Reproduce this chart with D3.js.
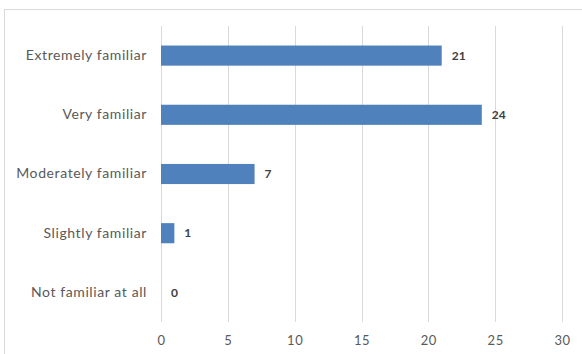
<!DOCTYPE html>
<html>
<head>
<meta charset="utf-8">
<script src="https://cdn.jsdelivr.net/npm/d3@7"></script>
<style>
  html, body { margin: 0; padding: 0; background: #fff; }
  svg { display: block; }
  text { font-family: Lato, "Open Sans", "Liberation Sans", sans-serif; }
</style>
</head>
<body>
<svg id="chart" width="582" height="354"></svg>
<script>
// Familiarity survey responses
const categories = ["Extremely familiar", "Very familiar", "Moderately familiar", "Slightly familiar", "Not familiar at all"];
const counts = [21, 24, 7, 1, 0];
const xTicks = [0, 5, 10, 15, 20, 25, 30];

const svg = d3.select("#chart");
const W = 582, H = 354;
const FONT = 'Lato, "Open Sans", "Liberation Sans", sans-serif';

// Chart frame (runs past the right and bottom edges)
svg.append("rect")
  .attr("x", 4.5).attr("y", 9.5)
  .attr("width", W + 10).attr("height", H + 10)
  .attr("fill", "#fff").attr("stroke", "#d9d9d9");

const plot = { left: 161, right: 562, top: 26, bottom: 322 };

const x = d3.scaleLinear().domain([0, 30]).range([plot.left, plot.right]);
const y = d3.scaleBand().domain(categories).range([plot.top, plot.bottom]).paddingInner(0.66).paddingOuter(0.33);

// Vertical gridlines
svg.append("g")
  .selectAll("line")
  .data(xTicks)
  .join("line")
  .attr("x1", d => Math.round(x(d)) + 0.5)
  .attr("x2", d => Math.round(x(d)) + 0.5)
  .attr("y1", plot.top).attr("y2", plot.bottom)
  .attr("stroke", "#d9d9d9").attr("stroke-width", 1);

// Bottom axis (labels only)
const xAxis = d3.axisBottom(x).tickValues(xTicks).tickSize(0).tickPadding(0);
const gx = svg.append("g").attr("transform", `translate(0,${plot.bottom + 14})`).call(xAxis);
gx.select(".domain").remove();
gx.selectAll("text")
  .attr("fill", "#595959").attr("font-size", 13)
  .attr("letter-spacing", 0.5)
  .attr("dy", "0.32em").attr("y", 5)
  .style("font-family", FONT);

// Category axis (labels only)
const yAxis = d3.axisLeft(y).tickSize(0).tickPadding(0);
const gy = svg.append("g").attr("transform", `translate(${plot.left - 14},0)`).call(yAxis);
gy.select(".domain").remove();
gy.selectAll("text")
  .attr("fill", "#595959").attr("font-size", 14)
  .attr("letter-spacing", 0.6)
  .style("font-family", FONT);

// Bars
svg.append("g")
  .selectAll("rect")
  .data(categories.map((c, i) => ({ c, v: counts[i] })))
  .join("rect")
  .attr("x", x(0))
  .attr("y", d => y(d.c))
  .attr("width", d => x(d.v) - x(0))
  .attr("height", y.bandwidth())
  .attr("fill", "#4f81bd");

// Value labels
svg.append("g")
  .selectAll("text")
  .data(categories.map((c, i) => ({ c, v: counts[i] })))
  .join("text")
  .attr("x", d => x(d.v) + 10)
  .attr("y", d => y(d.c) + y.bandwidth() / 2)
  .attr("dy", "0.35em")
  .attr("fill", "#404040")
  .attr("font-size", 12)
  .attr("font-weight", "bold")
  .text(d => d.v);
</script>
</body>
</html>
